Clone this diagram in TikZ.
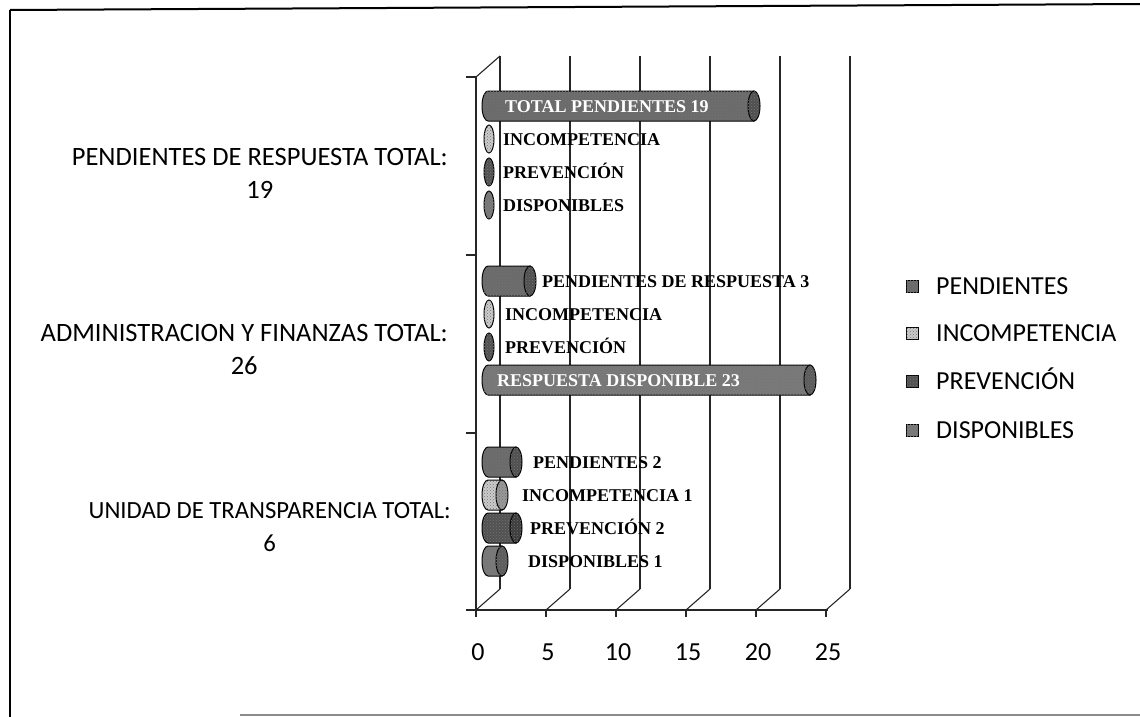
\documentclass[tikz,border=0pt]{standalone}
\usepackage{fontspec}
\setmainfont{Liberation Serif}
\newfontfamily\calibfont{Carlito}
\usetikzlibrary{patterns}
\definecolor{pendcol}{gray}{0.42}
\definecolor{incompcol}{gray}{0.8}
\definecolor{prevcol}{gray}{0.32}
\definecolor{dispcol}{gray}{0.48}

\tikzset{
  grid line/.style={line width=1.1pt, black!85},
  bar/.style={draw=black, line width=1pt, postaction={pattern=crosshatch dots, pattern color=black!55}},
  bar label/.style={anchor=west, inner sep=0pt, text height=12.5pt, text depth=0pt,
    font=\fontsize{18}{18}\selectfont\bfseries},
  cat label/.style={anchor=north east, align=center, inner sep=0pt,
    font=\calibfont\fontsize{26.5}{33}\selectfont},
  tick label/.style={inner sep=0pt, text height=16.5pt, text depth=0pt,
    font=\calibfont\fontsize{26}{26}\selectfont},
  legend label/.style={anchor=west, inner sep=0pt, text height=16.5pt, text depth=0pt,
    font=\calibfont\fontsize{26}{26}\selectfont},
}

\begin{document}
\begin{tikzpicture}[x=1pt, y=-1pt]
    \useasboundingbox (0,0) rectangle (1140,717);

    % Frame of the scanned page
    \draw[line width=2pt] (10,10) -- (1140,4);
    \draw[line width=2pt] (10,10) -- (10,717);
    \draw[line width=1.5pt, black!45] (240,715) -- (1140,715);

    % Back wall and floor
    \foreach \k in {0,...,5} {
        \draw[grid line] (500+70*\k,589) -- (500+70*\k,56);
        \draw[grid line] (476+70*\k,610) -- (500+70*\k,589);
        \draw[grid line] (476+70*\k,610) -- (476+70*\k,617);
    }
    \draw[grid line] (476,77) -- (500,56);

    % Axes
    \draw[grid line] (466,610) -- (828,610);
    \draw[grid line] (476,77) -- (476,610);
    \foreach \t in {77,255,433,610}
        \draw[grid line] (466,\t) -- (476,\t);

    % Bars with a value
    \foreach \v/\y/\c in {19/106/pendcol, 3/281/pendcol, 23/380/dispcol,
                          2/462/pendcol, 1/495/incompcol, 2/528/prevcol, 1/561/dispcol} {
        \pgfmathsetmacro{\xe}{488+14*\v}
        \path[bar, fill=\c] (\xe,\y-15) -- (488,\y-15)
            arc[start angle=270, end angle=90, x radius=6, y radius=15] -- (\xe,\y+15) -- cycle;
        \path[bar, fill=\c!75!black] (\xe,\y) ellipse[x radius=6, y radius=15];
    }

    % Empty bars
    \foreach \y/\c in {139/incompcol, 172/prevcol, 205/dispcol, 314/incompcol, 347/prevcol}
        \path[bar, fill=\c] (489,\y) ellipse[x radius=5, y radius=14];

    % Bar labels
    \node[bar label, text=white] (totpend) at (505,106) {TOTAL PENDIENTES 19};
    \node[bar label] (incompa) at (503,139) {INCOMPETENCIA};
    \node[bar label] (preva) at (503,172) {PREVENCIÓN};
    \node[bar label] (dispa) at (503,205) {DISPONIBLES};

    \node[bar label] (pendb) at (542,281) {PENDIENTES DE RESPUESTA 3};
    \node[bar label] (incompb) at (505,314) {INCOMPETENCIA};
    \node[bar label] (prevb) at (505,347) {PREVENCIÓN};
    \node[bar label, text=white] (dispb) at (497,380) {RESPUESTA DISPONIBLE 23};

    \node[bar label] (pendc) at (533,462) {PENDIENTES 2};
    \node[bar label] (incompc) at (522,495) {INCOMPETENCIA 1};
    \node[bar label] (prevc) at (530,528) {PREVENCIÓN 2};
    \node[bar label] (dispc) at (528,561) {DISPONIBLES 1};

    % Category labels
    \node[cat label] (catpend) at (448,148) {PENDIENTES DE RESPUESTA TOTAL:\\19};
    \node[cat label] (catadmin) at (448,324) {ADMINISTRACION Y FINANZAS TOTAL:\\26};
    \node[cat label, font=\calibfont\fontsize{24.7}{33}\selectfont] (catunid) at (451,502)
        {UNIDAD DE TRANSPARENCIA TOTAL:\\6};

    % Value axis labels
    \foreach \k in {0,...,5} {
        \pgfmathtruncatemacro{\val}{5*\k}
        \node[tick label] (tick\k) at (478+70*\k,652) {\val};
    }

    % Legend
    \foreach \y/\c/\name in {286/pendcol/PENDIENTES, 333/incompcol/INCOMPETENCIA,
                             381/prevcol/PREVENCIÓN, 430/dispcol/DISPONIBLES} {
        \path[bar, line width=0.6pt, fill=\c] (906,\y-6) rectangle (918,\y+6);
        \node[legend label] (leg\y) at (936,\y) {\name};
    }
\end{tikzpicture}
\end{document}
